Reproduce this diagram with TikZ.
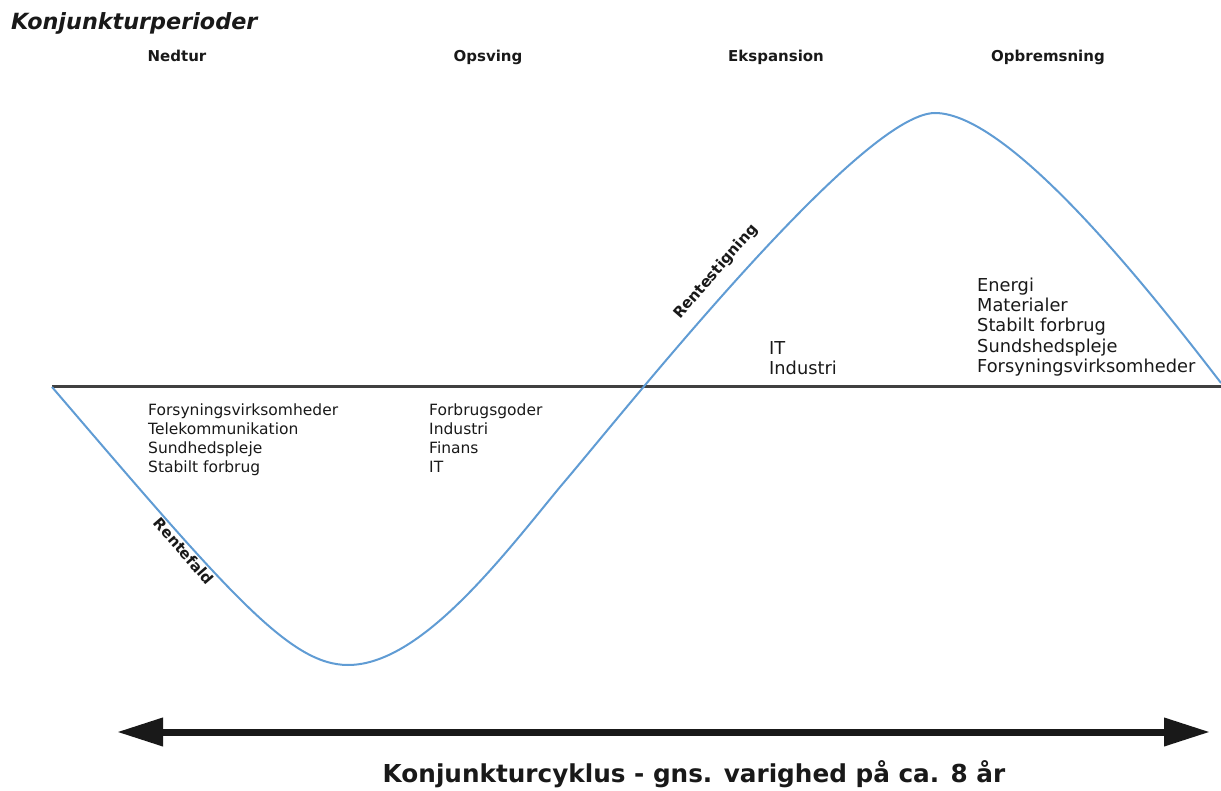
\documentclass[tikz,border=0pt]{standalone}
\usepackage{fontspec}
\setmainfont{DejaVu Sans}
\usetikzlibrary{arrows.meta}
\definecolor{curveblue}{RGB}{96,156,212}
\definecolor{ink}{RGB}{25,25,25}
\begin{document}
\begin{tikzpicture}[x=1pt,y=-1pt,
  heading/.style={font=\fontsize{22.3}{26}\selectfont\bfseries\itshape, anchor=base west, inner sep=0, text=ink},
  phase/.style={font=\fontsize{15}{18}\selectfont\bfseries, anchor=base, inner sep=0, text=ink},
  sector/.style={font=\fontsize{15.5}{18.8}\selectfont, align=left, anchor=north west, inner sep=0, text=ink},
  sectorbig/.style={font=\fontsize{17.8}{20.3}\selectfont, align=left, anchor=north west, inner sep=0, text=ink},
  rate/.style={font=\fontsize{15}{18}\selectfont\bfseries, inner sep=0, text=ink},
  cycleline/.style={draw=curveblue, line width=2},
  axisline/.style={draw=black!75, line width=3},
  spanarrow/.style={draw=ink, line width=7, {Triangle[length=46pt,width=27pt]}-{Triangle[length=46pt,width=27pt]}},
  caption/.style={font=\fontsize{24.7}{29}\selectfont\bfseries, anchor=base, inner sep=0, text=ink}]
\useasboundingbox (0,0) rectangle (1221,791);

\node[heading] (title) at (11,30) {Konjunkturperioder};
\node[phase] (ned) at (177,62) {Nedtur};
\node[phase] (ops) at (488,62) {Opsving};
\node[phase] (eks) at (776,62) {Ekspansion};
\node[phase] (opb) at (1048,62) {Opbremsning};

% axis
\coordinate (axL) at (52,387);
\coordinate (axR) at (1221,387);
\draw[axisline] (axL) -- (axR);

% business cycle curve
\draw[cycleline] (axL) .. controls (230,595) and (290,665) .. (348,665)
  .. controls (420,665) and (500,560) .. (560,487)
  .. controls (620,417) and (860,113) .. (935,113)
  .. controls (1010,113) and (1151,292) .. (1221,383);

\node[rate, rotate=-49] (fald) at (184,551) {Rentefald};
\node[rate, rotate=49] (stig) at (716,272) {Rentestigning};

\node[sector] (s1) at (148,404) {Forsyningsvirksomheder\\Telekommunikation\\Sundhedspleje\\Stabilt forbrug};
\node[sector] (s2) at (429,404) {Forbrugsgoder\\Industri\\Finans\\IT};
\node[sectorbig] (s3) at (769,341) {IT\\Industri};
\node[sectorbig] (s4) at (977,277.5) {Energi\\Materialer\\Stabilt forbrug\\Sundshedspleje\\Forsyningsvirksomheder};

% cycle span
\coordinate (arL) at (117,732);
\coordinate (arR) at (1210,732);
\draw[spanarrow] (arL) -- (arR);
\node[caption] (cap) at (694,782) {Konjunkturcyklus - gns. varighed på ca. 8 år};
\end{tikzpicture}
\end{document}
